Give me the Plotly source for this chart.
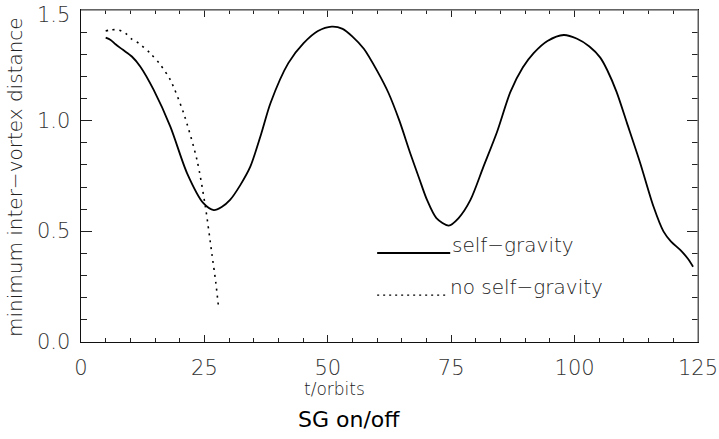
import plotly.graph_objects as go

# Minimum inter-vortex distance vs time, with and without self-gravity
t_sg = [5.0, 6.0, 7.0, 8.5, 10.3, 12.0, 14.7, 18.1, 21.5, 24.8, 26.9, 28.5, 30.2,
        32.3, 34.3, 36.5, 38.4, 42.0, 45.1, 48.0, 50.8, 53.0, 55.0, 57.3, 60.0,
        62.3, 64.5, 66.7, 68.5, 70.1, 72.0, 74.5, 76.5, 78.9, 81.5, 84.3, 87.0,
        89.5, 91.7, 94.5, 97.8, 100.5, 103.0, 105.2, 106.6, 108.5, 110.6, 113.3,
        116.0, 118.0, 119.5, 121.4, 123.0, 124.0]
d_sg = [1.375, 1.365, 1.345, 1.32, 1.29, 1.245, 1.14, 0.973, 0.762, 0.627, 0.596,
        0.61, 0.642, 0.71, 0.792, 0.94, 1.08, 1.26, 1.35, 1.405, 1.425, 1.415,
        1.38, 1.325, 1.225, 1.125, 1.0, 0.853, 0.74, 0.642, 0.56, 0.526, 0.56, 0.642,
        0.79, 0.95, 1.13, 1.24, 1.305, 1.36, 1.387, 1.37, 1.335, 1.285, 1.229,
        1.13, 0.99, 0.808, 0.611, 0.50, 0.455, 0.416, 0.375, 0.34]

t_nosg = [5.0, 6.0, 7.6, 9.0, 10.3, 11.7, 14.0, 16.0, 18.1, 20.8, 23.5, 25.2,
          26.5, 27.3, 27.9]
d_nosg = [1.405, 1.41, 1.41, 1.395, 1.368, 1.35, 1.305, 1.255, 1.184, 1.033,
          0.822, 0.611, 0.401, 0.27, 0.15]

legend_labels = ["self\u2212gravity", "no self\u2212gravity"]
legend_x = [60.0, 74.8]
legend_y = [0.402, 0.212]

x_ticks = [0, 25, 50, 75, 100, 125]
y_ticks = [0.0, 0.5, 1.0, 1.5]
y_ticktext = ["0.0", "0.5", "1.0", "1.5"]

fig = go.Figure()
fig.add_trace(go.Scatter(x=t_sg, y=d_sg, mode="lines",
                         line=dict(color="black", width=1.8, shape="spline", smoothing=0.8),
                         showlegend=False, hoverinfo="skip"))
fig.add_trace(go.Scatter(x=t_nosg, y=d_nosg, mode="lines",
                         line=dict(color="black", width=1.6, dash="2px,5px", shape="spline", smoothing=0.8),
                         showlegend=False, hoverinfo="skip"))

# Hand-placed key inside the plot
fig.add_trace(go.Scatter(x=legend_x, y=[legend_y[0]] * 2, mode="lines",
                         line=dict(color="black", width=1.8), showlegend=False, hoverinfo="skip"))
fig.add_trace(go.Scatter(x=[legend_x[0], 74.3], y=[legend_y[1]] * 2, mode="lines",
                         line=dict(color="black", width=1.4, dash="2px,4px"), showlegend=False, hoverinfo="skip"))

label_font = dict(family="DejaVu Sans", size=20, color="#222", weight=200)
fig.add_annotation(x=legend_x[1], y=legend_y[0], text=legend_labels[0], showarrow=False,
                   xanchor="left", yanchor="bottom", yshift=-6, font=label_font)
fig.add_annotation(x=74.3, y=legend_y[1], text=legend_labels[1], showarrow=False,
                   xanchor="left", yanchor="bottom", yshift=-6, font=label_font)

tick_font = dict(family="DejaVu Sans", size=21, color="#333", weight=200)
axis_common = dict(showline=True, linecolor="#111", linewidth=1.3, mirror="allticks",
                   ticks="inside", tickcolor="#222", tickwidth=1.2, automargin=False,
                   ticklabeloverflow="allow",
                   showgrid=False, zeroline=False, tickfont=tick_font)

fig.update_xaxes(range=[0, 125], tickvals=x_ticks, ticklen=7, ticklabelstandoff=7,
                 minor=dict(dtick=5, tick0=0, ticks="inside", ticklen=4, tickcolor="#222", showgrid=False),
                 **axis_common)
fig.update_yaxes(range=[0, 1.5], tickvals=y_ticks, showticklabels=False, ticklen=11,
                 minor=dict(dtick=0.1, tick0=0, ticks="inside", ticklen=6, tickcolor="#222", showgrid=False),
                 **axis_common)

# y tick labels; the top one is nudged down so it stays inside the page
for val, txt in zip(y_ticks, y_ticktext):
    fig.add_annotation(xref="paper", yref="y", x=0, y=val, text=txt, showarrow=False,
                       xanchor="right", yanchor="middle", xshift=-9,
                       yshift=-5 if val == y_ticks[-1] else 0, font=tick_font)

# lighter top and right frame edges
fig.add_shape(type="line", xref="paper", yref="paper", x0=0, x1=1, y0=1, y1=1,
              line=dict(color="#808080", width=1.3), layer="above")
fig.add_shape(type="line", xref="paper", yref="paper", x0=1, x1=1, y0=0, y1=1,
              line=dict(color="#808080", width=1.3), layer="above")

W, H = 719, 439
L, R, T, B = 81, 21, 10, 97
pw, ph = W - L - R, H - T - B


def px(x):
    return (x - L) / pw


def py(y):
    return (H - B - y) / ph


fig.add_annotation(xref="paper", yref="paper", x=px(15), y=py(177), xanchor="center", yanchor="middle",
                   text="minimum inter\u2212vortex distance", textangle=-90, showarrow=False,
                   font=dict(family="DejaVu Sans", size=20, color="#222", weight=200))
fig.add_annotation(xref="paper", yref="paper", x=px(334), y=py(389), xanchor="center", yanchor="middle",
                   text="t/orbits", showarrow=False,
                   font=dict(family="DejaVu Sans", size=17, color="#222", weight=200))
fig.add_annotation(xref="paper", yref="paper", x=px(349), y=py(419), xanchor="center", yanchor="middle",
                   text="SG on/off", showarrow=False,
                   font=dict(family="DejaVu Sans", size=22, color="black"))

fig.update_layout(width=W, height=H, margin=dict(l=L, r=R, t=T, b=B),
                  plot_bgcolor="white", paper_bgcolor="white", showlegend=False)

fig.write_html("out.html")
